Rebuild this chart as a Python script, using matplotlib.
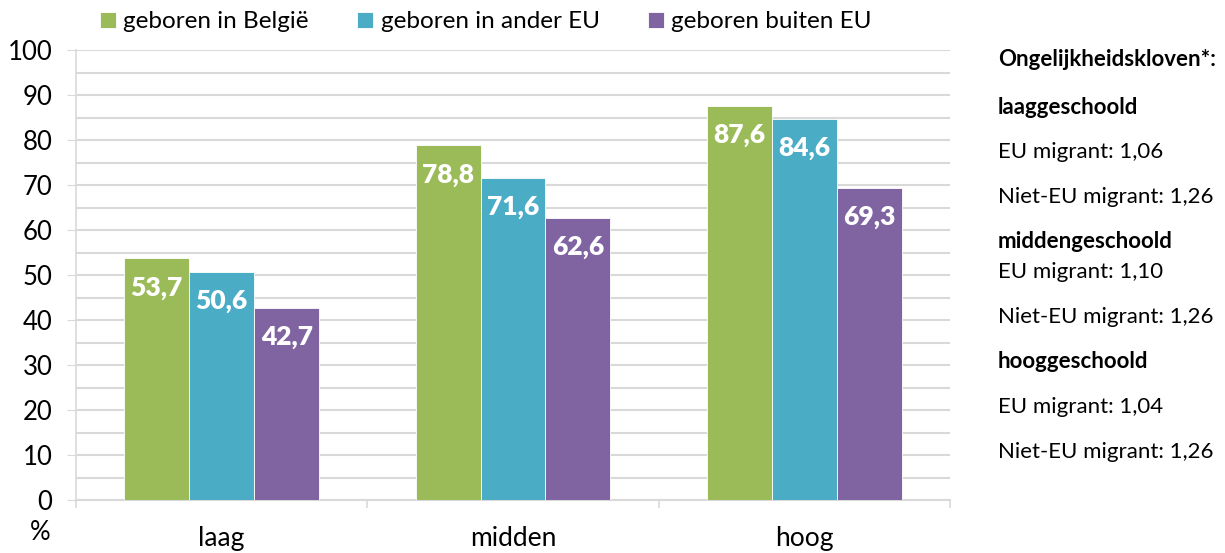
import matplotlib
matplotlib.use("Agg")
import matplotlib.pyplot as plt
import numpy as np

categories = ["laag", "midden", "hoog"]
series_names = ["geboren in België", "geboren in ander EU", "geboren buiten EU"]
belgie = [53.7, 78.8, 87.6]
ander_eu = [50.6, 71.6, 84.6]
buiten_eu = [42.7, 62.6, 69.3]
colors = ["#9BBB59", "#4BACC6", "#8064A2"]
y_ticks = [0, 10, 20, 30, 40, 50, 60, 70, 80, 90, 100]

side_lines = [
    ("Ongelijkheidskloven*:", True, 60),
    ("laaggeschoold", True, 107),
    ("EU migrant: 1,06", False, 152),
    ("Niet-EU migrant: 1,26", False, 197),
    ("middengeschoold", True, 242),
    ("EU migrant: 1,10", False, 272),
    ("Niet-EU migrant: 1,26", False, 317),
    ("hooggeschoold", True, 362),
    ("EU migrant: 1,04", False, 407),
    ("Niet-EU migrant: 1,26", False, 452),
]

plt.rcParams['font.family'] = ['Lato', 'DejaVu Sans']
W, H = 1225, 553
fig = plt.figure(figsize=(W/100, H/100), dpi=100)
ax = fig.add_axes([76/W, 1-500/H, (950-76)/W, 450/H])

x = np.arange(len(categories))
bw = 0.223
grid_c = "#D9D9D9"
for i, (vals, name, c) in enumerate(zip([belgie, ander_eu, buiten_eu], series_names, colors)):
    bars = ax.bar(x + (i-1)*bw, vals, bw, color=c, label=name, zorder=3,
                  edgecolor="white", linewidth=0.6)
    for b, v in zip(bars, vals):
        ax.annotate(f"{v:.1f}".replace(".", ","), (b.get_x()+b.get_width()/2, v),
                    xytext=(0, -21), textcoords="offset points", ha="center", va="center",
                    color="white", fontsize=19, fontweight="heavy", zorder=4)

ax.set_ylim(0, 100)
ax.set_xlim(-0.5, 2.5)
ax.set_yticks(y_ticks)
ax.set_yticks(np.arange(5, 100, 10), minor=True)
ax.yaxis.grid(True, which="both", color=grid_c, linewidth=1.5, zorder=0)
ax.tick_params(axis="y", which="major", length=6.5, color=grid_c, labelsize=18.5, pad=10.5)
ax.tick_params(axis="y", which="minor", length=0)
ax.set_xticks(x)
ax.set_xticklabels(categories)
ax.set_xticks([-0.5, 0.5, 1.5, 2.5], minor=True)
ax.tick_params(axis="x", which="major", length=0, labelsize=19, pad=19)
ax.tick_params(axis="x", which="minor", length=6, color=grid_c, width=1.2)
for s in ["top", "right"]:
    ax.spines[s].set_visible(False)
ax.spines["left"].set_color(grid_c)
ax.spines["bottom"].set_color(grid_c)
ax.spines["left"].set_linewidth(1.2)
ax.spines["bottom"].set_linewidth(1.5)

fig.text(40/W, 1-533/H, "%", fontsize=18.5, ha="center", va="center")

handles, labels = ax.get_legend_handles_labels()
fig.legend(handles, labels, loc="center", bbox_to_anchor=(486/W, 1-22/H), ncol=3,
           frameon=False, fontsize=17.5, handlelength=0.65, handleheight=0.65,
           handletextpad=0.3, columnspacing=2.0, borderpad=0, borderaxespad=0)

for txt, bold, y in side_lines:
    fig.text(998/W, 1-y/H, txt, fontsize=16, fontweight="bold" if bold else "normal",
             ha="left", va="center")

fig.savefig("out.png", dpi=100)
